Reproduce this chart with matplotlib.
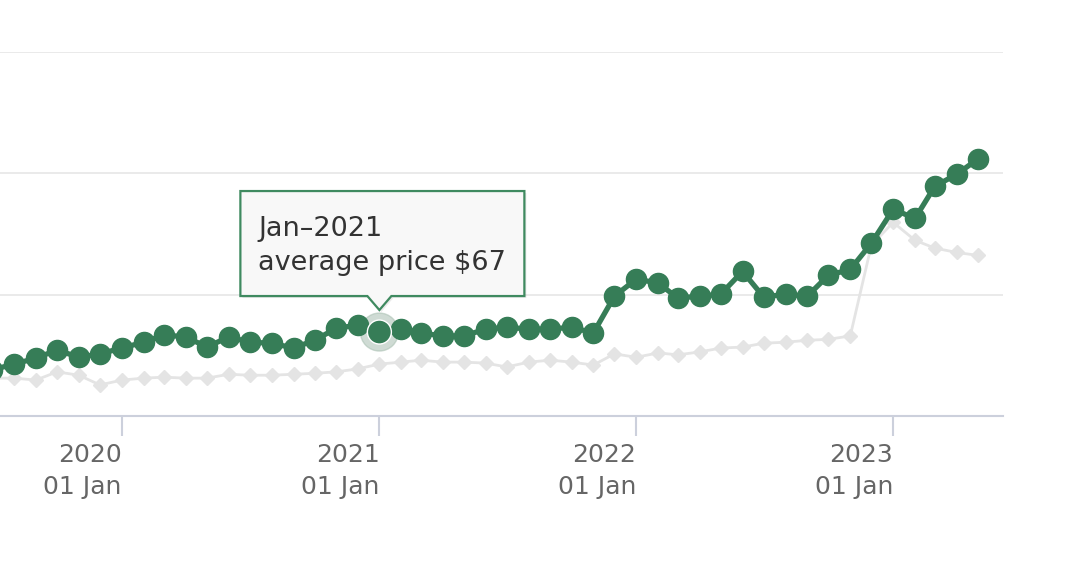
import datetime
import matplotlib
matplotlib.use("Agg")
from matplotlib import pyplot as plt
import matplotlib.dates as mdates
import matplotlib.transforms as mtransforms
from matplotlib.path import Path
from matplotlib.patches import PathPatch, Circle

# monthly points, Jul 2019 .. May 2023
months = ["2019-07", "2019-08", "2019-09", "2019-10", "2019-11", "2019-12",
          "2020-01", "2020-02", "2020-03", "2020-04", "2020-05", "2020-06",
          "2020-07", "2020-08", "2020-09", "2020-10", "2020-11", "2020-12",
          "2021-01", "2021-02", "2021-03", "2021-04", "2021-05", "2021-06",
          "2021-07", "2021-08", "2021-09", "2021-10", "2021-11", "2021-12",
          "2022-01", "2022-02", "2022-03", "2022-04", "2022-05", "2022-06",
          "2022-07", "2022-08", "2022-09", "2022-10", "2022-11", "2022-12",
          "2023-01", "2023-02", "2023-03", "2023-04", "2023-05"]

avg_price = [59.5, 60.7, 61.9, 63.6, 62.1, 62.8,
             64.0, 65.2, 66.7, 66.3, 64.2, 66.3, 65.2, 65.0, 64.0, 65.6, 68.1, 68.7,
             67.3, 67.9, 67.1, 66.5, 66.5, 67.9, 68.3, 67.9, 67.9, 68.3, 67.1, 74.7,
             78.2, 77.4, 74.3, 74.7, 75.1, 79.8, 74.5, 75.1, 74.7, 79.0, 80.2, 85.6,
             92.6, 90.7, 97.3, 99.8, 102.9]

other_price = [57.8, 57.8, 57.4, 59.1, 58.4, 56.4,
               57.4, 57.8, 58.0, 57.8, 57.8, 58.6, 58.4, 58.4, 58.6, 58.8, 59.1, 59.7,
               60.7, 61.1, 61.5, 61.1, 61.1, 60.9, 60.1, 61.1, 61.5, 61.1, 60.5, 62.8,
               62.1, 63.0, 62.6, 63.2, 64.0, 64.2, 65.0, 65.2, 65.6, 65.8, 66.5, 85.2,
               89.9, 86.2, 84.6, 83.7, 83.1]

tick_years = [2020, 2021, 2022, 2023]
hover_month = "2021-01"
tooltip_lines = ["Jan\u20132021", "average price $67"]

green = "#367d57"
dates = [datetime.datetime.strptime(m, "%Y-%m") for m in months]

fig = plt.figure(figsize=(10.8, 5.61), dpi=100)
ax = fig.add_axes([0.0, 1 - 416 / 561, 1003 / 1080, (416 - 52) / 561])

ax.set_xlim(datetime.datetime(2019, 7, 12), datetime.datetime(2023, 6, 6))
ax.set_ylim(50, 125)

# grid
for v in [75, 100, 125]:
    ax.axhline(v, color="#e6e6e6", lw=1.2, zorder=0)

ax.plot(dates, other_price, color="#e4e4e4", lw=2, marker="D", ms=7,
        mec="#e4e4e4", mfc="#e4e4e4", zorder=1, clip_on=False)
ax.plot(dates, avg_price, color=green, lw=3.8, marker="o", ms=14.5,
        mec=green, mfc=green, zorder=3, clip_on=False)

# hovered point
hi = months.index(hover_month)
hx, hy = mdates.date2num(dates[hi]), avg_price[hi]
pt_trans = fig.dpi_scale_trans + mtransforms.ScaledTranslation(hx, hy, ax.transData)
ax.add_patch(Circle((0, 0), 0.19, transform=pt_trans, color="#a8bfb1",
                    alpha=0.55, zorder=2, clip_on=False))
ax.add_patch(Circle((0, 0), 0.12, transform=pt_trans, facecolor=green,
                    edgecolor="white", lw=1, zorder=4, clip_on=False))

# tooltip (inches relative to the hovered point)
L, R, B, T = -1.39, 1.45, 0.36, 1.41
verts = [(L, B), (-0.12, B), (0, 0.22), (0.12, B), (R, B), (R, T), (L, T), (L, B)]
codes = [Path.MOVETO] + [Path.LINETO] * 6 + [Path.CLOSEPOLY]
# soft shadow
shadow = mtransforms.ScaledTranslation(0.02, -0.02, fig.dpi_scale_trans)
ax.add_patch(PathPatch(Path(verts, codes), transform=pt_trans + shadow,
                       facecolor="#000000", edgecolor="none", alpha=0.08,
                       zorder=5, clip_on=False))
ax.add_patch(PathPatch(Path(verts, codes), transform=pt_trans, facecolor="#f8f8f8",
                       edgecolor="#3f8a60", lw=1.6, zorder=6, clip_on=False))
ax.text(-1.21, 0.96, tooltip_lines[0], transform=pt_trans, fontsize=19.5,
        color="#333333", va="baseline", ha="left", zorder=7)
ax.text(-1.21, 0.62, tooltip_lines[1], transform=pt_trans, fontsize=19.5,
        color="#333333", va="baseline", ha="left", zorder=7)

# axes styling
for s in ["left", "right", "top"]:
    ax.spines[s].set_visible(False)
ax.spines["bottom"].set_color("#ccd0dc")
ax.spines["bottom"].set_linewidth(1.5)
ax.set_yticks([])
ax.set_xticks([datetime.datetime(y, 1, 1) for y in tick_years])
ax.set_xticklabels([f"{y}\n01 Jan" for y in tick_years], fontsize=18,
                   color="#666666", ha="right", multialignment="right",
                   linespacing=1.4)
ax.tick_params(axis="x", length=14.5, width=1.5, color="#ccd0dc", pad=5)

fig.savefig("out.png", dpi=100)
